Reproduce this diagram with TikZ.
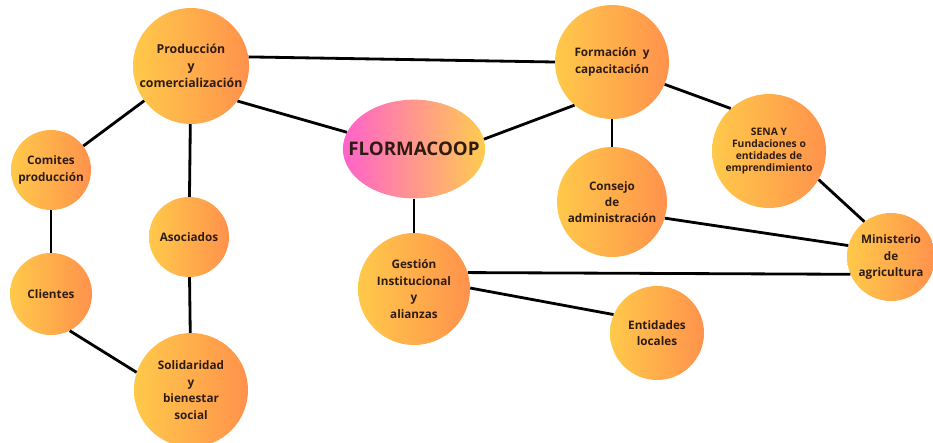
\documentclass[tikz,border=0pt]{standalone}
\usepackage{fontspec}
\setmainfont{Open Sans}
\usetikzlibrary{shapes.geometric}

\definecolor{bubbleleft}{RGB}{255,201,74}
\definecolor{bubbleright}{RGB}{255,146,76}
\definecolor{coreleft}{RGB}{255,98,202}
\definecolor{coreright}{RGB}{255,204,80}
\definecolor{labeltext}{RGB}{46,28,18}

\tikzset{
  bubble/.style={circle, inner sep=0pt, minimum size={#1*0.03cm},
    left color=bubbleleft, right color=bubbleright, text=labeltext,
    align=center, font=\bfseries\fontsize{10}{14}\selectfont},
  core/.style={ellipse, inner xsep=-0.46cm, inner ysep=0pt,
    minimum width=4.14cm, minimum height=2.96cm,
    left color=coreleft, right color=coreright, text=labeltext,
    font=\bfseries\fontsize{16}{18}\selectfont},
  link/.style={line width=2.4pt, black},
}

\begin{document}
\begin{tikzpicture}[x=0.03cm, y=-0.03cm]
    \useasboundingbox (0,0) rectangle (933,442);

    \node (Flormacoop) [core] at (414,149) {FLORMACOOP};
    \node (Produccion) [bubble=116, font=\bfseries\fontsize{10.5}{14.5}\selectfont] at (191,66) {Producción\\y\\comercialización};
    \node (Formacion) [bubble=114] at (612,62) {Formación~ y\\capacitación};
    \node (Sena) [bubble=114, font=\bfseries\fontsize{8.8}{10.5}\selectfont] at (769,151) {SENA Y\\Fundaciones o\\entidades de\\emprendimiento};
    \node (Comites) [bubble=80] at (51,170) {Comites\\producción};
    \node (Clientes) [bubble=82, node distance = 3.72cm, below of = Comites] {Clientes};
    \node (Asociados) [bubble=80] at (189,237) {Asociados};
    \node (Solidaridad) [bubble=114, node distance = 9.72cm, below of = Produccion] {Solidaridad\\y\\bienestar\\social};
    \node (Gestion) [bubble=112, node distance = 4.2cm, below of = Flormacoop] {Gestión\\Institucional\\y\\alianzas};
    \node (Consejo) [bubble=110, node distance = 4.2cm, below of = Formacion] {Consejo\\de\\administración};
    \node (Entidades) [bubble=94] at (657,333) {Entidades\\locales};
    \node (Ministerio) [bubble=88] at (891,257) {Ministerio\\de\\agricultura};

    \draw[link] (Produccion.9) -- (Formacion.180);
    \draw[link] (Produccion.-37) -- (Flormacoop.166);
    \draw[link] (Produccion) -- (Comites);
    \draw[link] (Produccion) -- (Asociados);
    \draw[link] (Asociados) -- (Solidaridad);
    \draw[link] (Comites) -- (Clientes);
    \draw[link] (Clientes.-63) -- (Solidaridad.162);
    \draw[link] (Flormacoop.8) -- (Formacion.229);
    \draw[link] (Flormacoop) -- (Gestion);
    \draw[link] (Formacion) -- (Consejo);
    \draw[link] (Formacion.-23) -- (Sena.132);
    \draw[link] (Sena.-30) -- (Ministerio.127);
    \draw[link] (Consejo.-17) -- (Ministerio.165);
    \draw[link] (Gestion.17) -- (Ministerio.203);
    \draw[link] (Gestion.1) -- (Entidades.157);
\end{tikzpicture}
\end{document}
